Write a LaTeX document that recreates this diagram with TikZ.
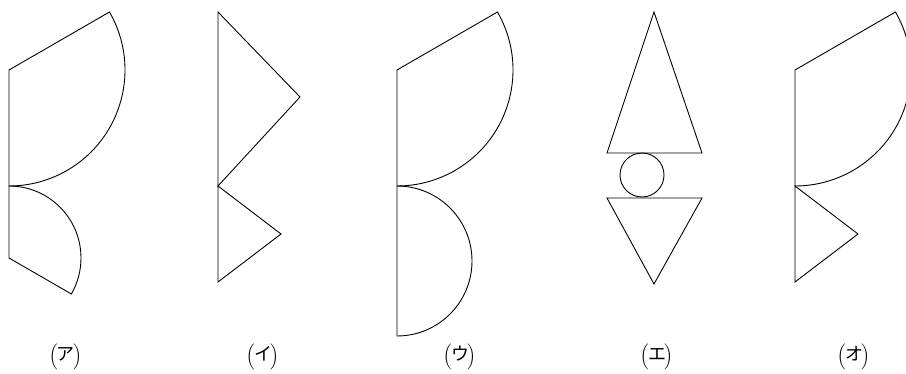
\documentclass[tikz,border=0pt]{standalone}
\usepackage{amsmath}
\usepackage{fontspec}
\newfontfamily\jpfont{Noto Sans CJK JP}
\usepackage{tikz}
\usetikzlibrary{positioning,calc}

\tikzset{
    fig/.style={line width=0.9pt, line join=miter},
    lbl/.style={inner sep=0pt, font=\fontsize{15}{18}\selectfont}
}
\newcommand{\kana}[1]{$\Bigl($\kern-1.5pt{\jpfont\fontsize{18}{20}\selectfont #1}\kern-1.5pt$\Bigr)$}

\begin{document}
\begin{tikzpicture}[x=1pt, y=1pt]
    \useasboundingbox (0,0) rectangle (906,-374);

    % (ア)
    \draw[fig] (9,-70) -- ++(30:116) arc[start angle=30, end angle=-90, radius=116] -- cycle;
    \draw[fig] (9,-258) -- ++(90:72) arc[start angle=90, end angle=-30, radius=72] -- cycle;

    % (イ)
    \draw[fig] (218,-12) -- (300,-97) -- (218,-186) -- cycle;
    \draw[fig] (218,-186) -- (281,-234) -- (218,-282) -- cycle;

    % (ウ)
    \draw[fig] (397,-70) -- ++(30:116) arc[start angle=30, end angle=-90, radius=116] -- cycle;
    \draw[fig] (397,-186) arc[start angle=90, end angle=-90, radius=75] -- cycle;

    % (エ)
    \draw[fig] (654,-12) -- (702,-153) -- (607,-153) -- cycle;
    \draw[fig] (642,-175) circle (22);
    \draw[fig] (607,-198) -- (702,-198) -- (654,-284) -- cycle;

    % (オ)
    \draw[fig] (795,-70) -- ++(30:116) arc[start angle=30, end angle=-90, radius=116] -- cycle;
    \draw[fig] (795,-186) -- (858,-234) -- (795,-282) -- cycle;

    % labels
    \node[lbl] (labA) at (66,-357)  {\kana{ア}};
    \node[lbl] (labI) at (263,-357) {\kana{イ}};
    \node[lbl] (labU) at (460,-357) {\kana{ウ}};
    \node[lbl] (labE) at (657,-357) {\kana{エ}};
    \node[lbl] (labO) at (854,-357) {\kana{オ}};
\end{tikzpicture}
\end{document}
